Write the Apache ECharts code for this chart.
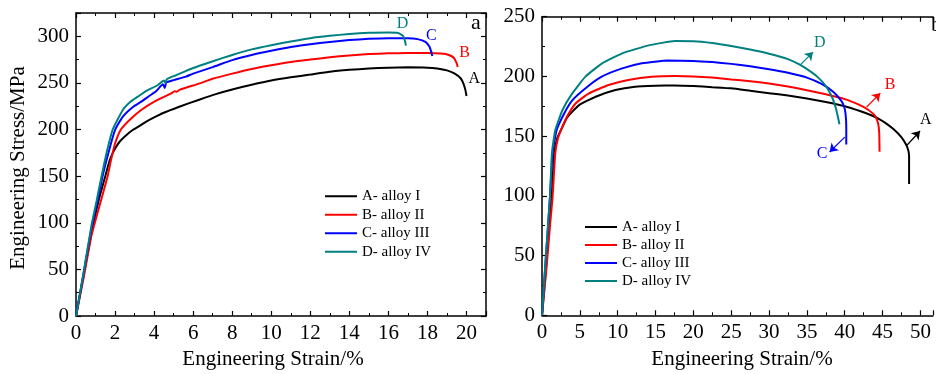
<!DOCTYPE html>
<html><head><meta charset="utf-8">
<script src="https://cdn.jsdelivr.net/npm/echarts@6/dist/echarts.min.js"></script>
<style>html,body{margin:0;padding:0;background:#fff}#c{width:936px;height:374px}</style>
</head><body><div id="c"></div><script>
const names = ['A- alloy I','B- alloy II','C- alloy III','D- alloy IV'];
const colors = ['#000000','#ff0000','#0000ff','#008080'];
const letters = ['A','B','C','D'];

// panel a: [strain %, stress MPa]
const aA = [[0,0],[0.4,45],[0.8,90],[1.16,124],[1.5,150],[1.71,166],[1.91,176],[2.1,183],[2.3,188.5],[2.6,194.5],[2.9,199.5],[3.3,204.5],[3.6,208.5],[4.0,213],[4.43,217.5],[5.29,224.5],[6.31,232],[7.16,238],[8,243],[9,248],[10,252.5],[11,256],[12,259],[13,262],[14,264],[15,265.5],[16,266.4],[17,266.7],[18,266.4],[18.5,265.5],[19,263.5],[19.4,260],[19.7,255],[19.85,249],[19.95,242],[20,236]];
const aB = [[0,0],[0.4,42],[0.8,87],[1.28,124],[1.62,150],[1.79,167],[2.0,185],[2.3,200],[2.73,210],[3.32,220.7],[4.1,231],[4.86,238.6],[5.05,241],[5.15,240.5],[5.3,242.5],[6.3,249.3],[7,254.5],[8,260],[9,265],[10,269],[11,272.5],[12,275],[13,277.5],[14,279.5],[15,281],[16,281.7],[17,282],[18,282],[18.7,281.5],[19.1,280],[19.35,277],[19.5,271],[19.55,267]];
const aC = [[0,0],[0.4,47],[0.8,95],[1.11,124],[1.36,150],[1.79,185],[2.01,200],[2.39,213.6],[2.9,224],[3.35,230],[3.75,236],[4.1,241],[4.45,248.5],[4.55,244.5],[4.62,250.5],[5,253],[5.63,256.8],[6,260],[7,267],[8,274.5],[9,280],[10,284.5],[11,288.5],[12,291.5],[13,294],[14,296],[15,297.3],[16,298],[17,298],[17.5,297],[17.9,294],[18.1,289],[18.2,283],[18.25,279]];
const aD = [[0,0],[0.4,48],[0.8,98],[1.06,124],[1.31,150],[1.6,178],[1.88,200],[2.39,220.7],[2.8,230],[3.15,235],[3.6,241.5],[4.18,247.5],[4.5,252.5],[4.58,250],[4.65,254],[5.1,258],[6,266],[6.9,272.5],[8,280],[9,286],[10,290.5],[11,294.5],[12,298],[13,300.5],[14,302.5],[15,303.7],[16,304],[16.5,303.5],[16.75,300.5],[16.85,295],[16.9,290]];

// panel b
const bA = [[0,0],[0.6,45],[1.0,80],[1.27,99],[1.62,135.6],[2.0,148],[2.5,155],[3.37,166],[4.9,176],[7.1,183],[9.7,188.6],[12.3,191.4],[15,192.2],[17.5,192.5],[20,192],[22.5,191],[25,190],[27.5,188],[30,186],[32.5,184],[35,181.5],[37.5,178.5],[40,175],[42,171],[43.5,167.5],[44.5,164.5],[45.5,160.5],[46.5,155.5],[47.5,149],[48.1,143],[48.4,138],[48.5,133],[48.5,110]];
const bB = [[0,0],[0.6,40],[1.1,78],[1.4,99],[1.75,135.6],[2.1,148],[2.5,155],[3.28,166],[4.46,177.5],[6.2,185.8],[8.8,192.8],[11.4,197],[14.5,199.7],[17.6,200.3],[20,200],[22.5,199],[25,197.5],[27.5,196],[30,194],[32.5,191.5],[35,188.5],[37.5,185],[40,181],[42,176],[43,172.5],[44,167],[44.4,161],[44.55,153],[44.6,137]];
const bC = [[0,0],[0.5,48],[1.05,99],[1.4,135.6],[1.93,155],[2.93,169],[4.0,180],[6.0,191.4],[7.95,200],[10.6,206.7],[13.2,211],[16.6,213.3],[20,213],[22.5,212],[25,210.5],[27.5,208.5],[30,206],[32.5,203],[35,199],[37,193.5],[38.5,187],[39.5,180],[39.9,175],[40.1,169],[40.2,158],[40.2,143]];
const bD = [[0,0],[0.5,48],[1.05,99],[1.31,135.6],[1.75,155],[2.71,171.9],[4.0,185.8],[5.77,200],[7.95,211],[10.6,219.3],[14.1,226],[17.6,229.6],[20,229.5],[22.5,228],[25,225.5],[27.5,222.5],[30,219],[32.5,214.5],[34,210],[35.5,204],[36.5,199],[37.5,192],[38.3,183],[38.8,174],[39.1,166],[39.3,160]];

const seriesA = [aA,aB,aC,aD];
const seriesB = [bA,bB,bC,bD];

// axis ranges
const axA = {xmin:0,xmax:21,xint:2,ymin:0,ymax:325,yint:50};
const axB = {xmin:0,xmax:51.66,xint:5,ymin:0,ymax:250,yint:50};

// annotation letters (data coords) and arrows for panel b
const notesA = [[20.4,254],[19.9,281.8],[18.2,301],[16.73,312.9]]; // A,B,C,D
const notesB = [[50.7,163.5],[46.0,192.7],[37.0,135],[36.7,228]]; // A,B,C,D
const arrowsB = [[[48.25,142.6],[49.95,154.3]],[[42.9,174.4],[44.7,186]],[[40.0,149.2],[38.0,136.7]],[[34.1,209.5],[35.8,220.4]]];

const F = "'Liberation Serif','Times New Roman',serif";
const chart = echarts.init(document.getElementById('c'));

function mkAxis(gi, min, max, interval, pos, labels, hideAbove, show){
  return {
    type:'value', gridIndex:gi, min, max, interval, position:pos, show: show!==false,
    axisLine:{show:true,onZero:false,lineStyle:{color:'#000',width:1.5}},
    axisTick:{show:true,inside:true,length:5,lineStyle:{color:'#000',width:1.2}},
    minorTick:{show:true,splitNumber:2,length:3,lineStyle:{color:'#000',width:1}},
    splitLine:{show:false},
    axisLabel:{show:labels,color:'#000',fontSize:21,fontFamily:F,margin:7,
      formatter:v=> v>hideAbove ? '' : String(v)}
  };
}

const grids = [
  {left:76, top:13, width:410, height:303},
  {left:542, top:16.7, width:394, height:298.6}
];
const xAxis = [
  mkAxis(0,axA.xmin,axA.xmax,axA.xint,'bottom',true,20),
  mkAxis(0,axA.xmin,axA.xmax,axA.xint,'top',false,20),
  mkAxis(1,axB.xmin,axB.xmax,axB.xint,'bottom',true,50),
  mkAxis(1,axB.xmin,axB.xmax,axB.xint,'top',false,50)
];
const yAxis = [
  mkAxis(0,axA.ymin,axA.ymax,axA.yint,'left',true,300),
  mkAxis(0,axA.ymin,axA.ymax,axA.yint,'right',false,300),
  mkAxis(1,axB.ymin,axB.ymax,axB.yint,'left',true,250),
  mkAxis(1,axB.ymin,axB.ymax,axB.yint,'right',false,250,false)
];

const series = [];
seriesA.forEach((d,i)=>series.push({type:'line',name:names[i],data:d,xAxisIndex:0,yAxisIndex:0,smooth:0.15,
  symbol:'none',lineStyle:{color:colors[i],width:2},itemStyle:{color:colors[i]},silent:true}));
seriesB.forEach((d,i)=>series.push({type:'line',name:names[i],data:d,xAxisIndex:2,yAxisIndex:2,smooth:0.15,
  symbol:'none',lineStyle:{color:colors[i],width:2},itemStyle:{color:colors[i]},silent:true,
  markLine:{silent:true,symbol:['none','arrow'],symbolSize:8,animation:false,
    lineStyle:{color:colors[i],width:1.2,type:'solid'},label:{show:false},
    data:[[{coord:arrowsB[i][0]},{coord:arrowsB[i][1]}]]}}));

const legendBase = {orient:'vertical',icon:'rect',itemWidth:32,itemHeight:2,itemGap:0,padding:0,selectedMode:false,
  textStyle:{fontSize:15,lineHeight:18.5,fontFamily:F,color:'#000',padding:[0,0,0,0]},data:names};

chart.setOption({
  animation:false,
  grid:grids, xAxis, yAxis, series,
  legend:[Object.assign({left:325,top:187},legendBase),
          Object.assign({left:585,top:218},legendBase,{textStyle:Object.assign({},legendBase.textStyle,{lineHeight:18})})]
});

const g = [];
function txt(x,y,t,c,size,align){ g.push({type:'text',x,y,style:{text:t,fill:c,fontSize:size,fontFamily:F,align:align||'center',verticalAlign:'middle'},silent:true}); }
notesA.forEach((p,i)=>{ const px=chart.convertToPixel({xAxisIndex:0,yAxisIndex:0},p); txt(px[0],px[1],letters[i],colors[i],16); });
notesB.forEach((p,i)=>{ const px=chart.convertToPixel({xAxisIndex:2,yAxisIndex:2},p); txt(px[0],px[1],letters[i],colors[i],16); });
txt(476,23,'a','#000',22);
txt(931,25,'b','#000',22,'left');
txt(273,359,'Engineering Strain/%','#000',21);
txt(742,359,'Engineering Strain/%','#000',21);
g.push({type:'text',x:18,y:168,rotation:Math.PI/2,style:{text:'Engineering Stress/MPa',fill:'#000',fontSize:21,fontFamily:F,align:'center',verticalAlign:'middle'},silent:true});
chart.setOption({graphic:g});
</script></body></html>
